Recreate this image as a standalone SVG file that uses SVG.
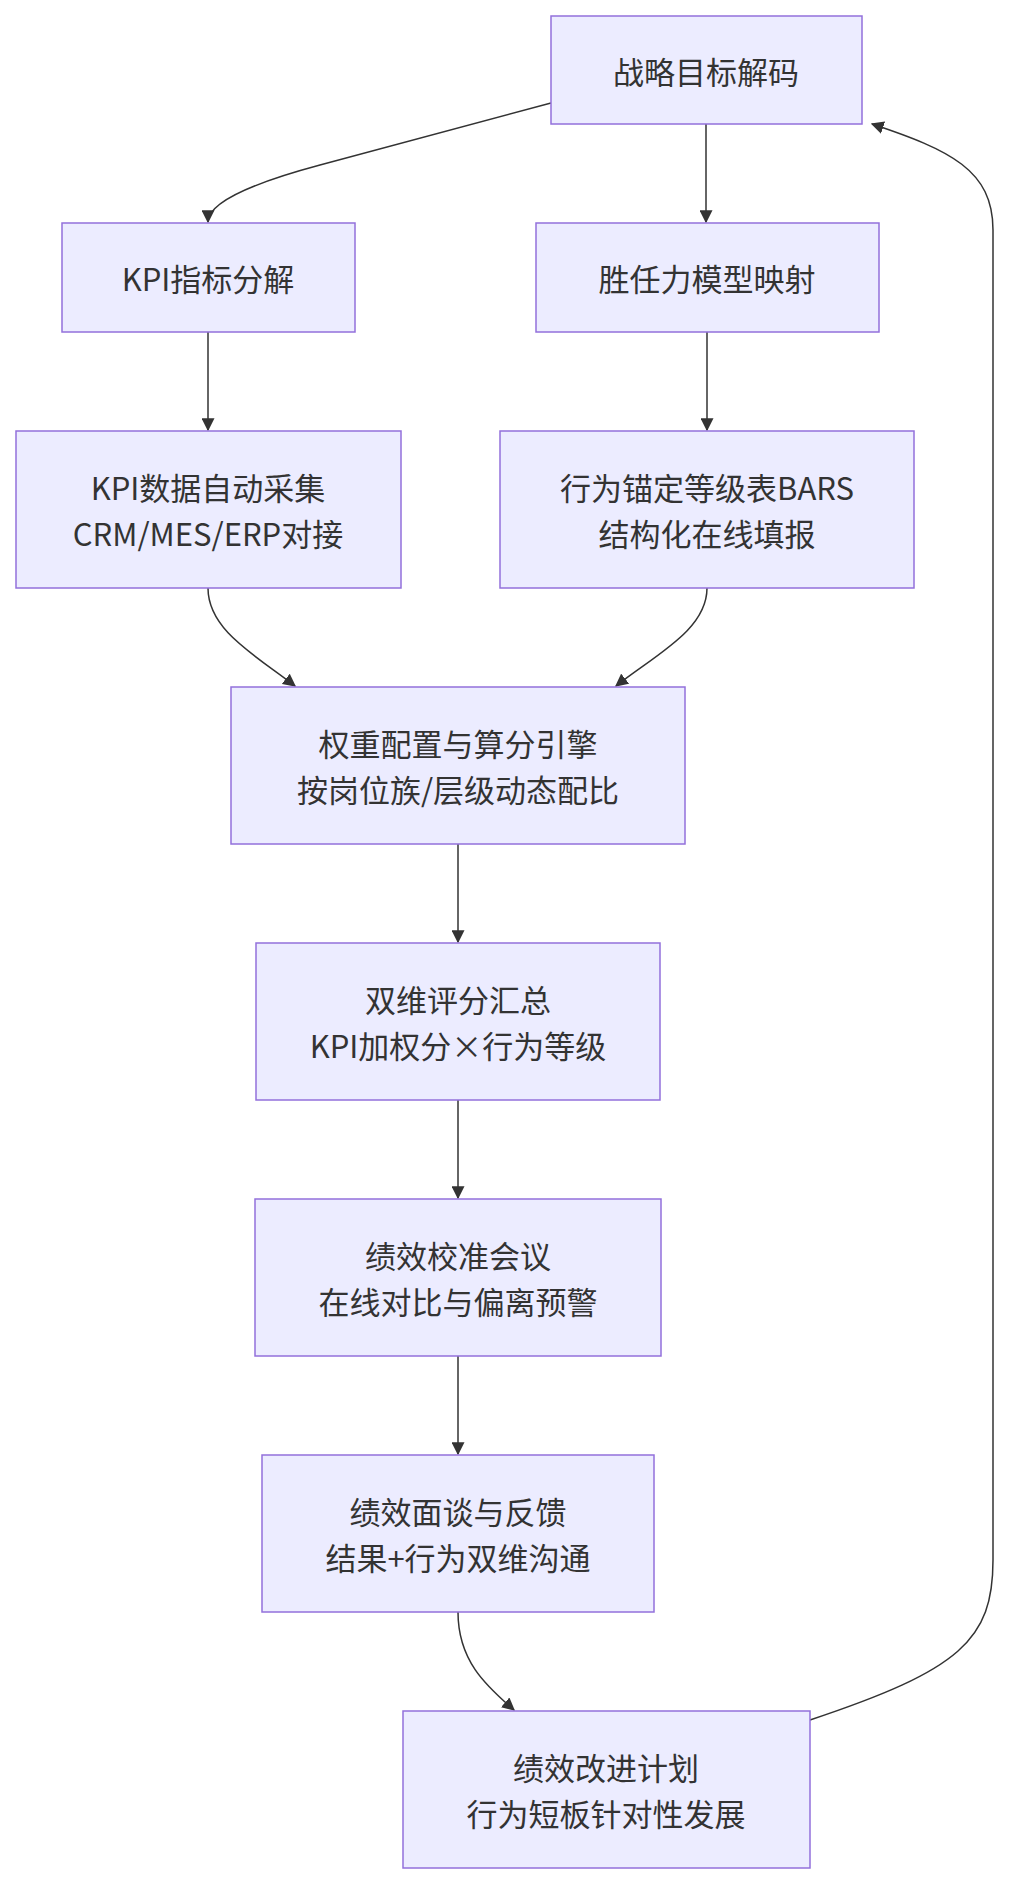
<svg xmlns="http://www.w3.org/2000/svg" width="1014" height="1884" viewBox="0 0 1014 1884">
<style>
.n rect{fill:#ECECFF;stroke:#9370DB;stroke-width:1.5}
.n text{font-family:"Noto Sans CJK SC","Noto Sans",sans-serif;font-size:31px;fill:#333;text-anchor:middle;dominant-baseline:central}
.e path{fill:none;stroke:#333;stroke-width:1.5;marker-end:url(#a)}
</style>
<defs><marker id="a" viewBox="0 0 10 10" refX="9" refY="5" markerWidth="13" markerHeight="13" orient="auto" markerUnits="userSpaceOnUse"><path d="M0,0L10,5L0,10z" fill="#333"/></marker></defs>
<rect width="1014" height="1884" fill="#fff"/>
<g class="e">
<path d="M551,103 L320,165 Q208,195 208,222"/>
<path d="M706,124 L706,222"/>
<path d="M208,332 L208,430"/>
<path d="M707,332 L707,430"/>
<path d="M208,588 C208,630 255,655 295,686"/>
<path d="M707,588 C707,630 655,655 616,686"/>
<path d="M458,844 L458,942"/>
<path d="M458,1100 L458,1198"/>
<path d="M458,1356 L458,1454"/>
<path d="M458,1612 C458,1660 485,1685 514,1710"/>
<path d="M810,1720 C960,1670 993,1640 993,1560 L993,230 C993,170 950,150 872,124"/>
</g>
<g id="A" class="n"><rect x="551" y="16" width="311" height="108"/><text x="706" y="70">战略目标解码</text></g>
<g id="B" class="n"><rect x="62" y="223" width="293" height="109"/><text x="208" y="277">KPI指标分解</text></g>
<g id="C" class="n"><rect x="536" y="223" width="343" height="109"/><text x="707" y="277">胜任力模型映射</text></g>
<g id="D" class="n"><rect x="16" y="431" width="385" height="157"/><text x="208" y="486">KPI数据自动采集</text><text x="208" y="532">CRM/MES/ERP对接</text></g>
<g id="E" class="n"><rect x="500" y="431" width="414" height="157"/><text x="707" y="486">行为锚定等级表BARS</text><text x="707" y="532">结构化在线填报</text></g>
<g id="F" class="n"><rect x="231" y="687" width="454" height="157"/><text x="458" y="742">权重配置与算分引擎</text><text x="458" y="788">按岗位族/层级动态配比</text></g>
<g id="G" class="n"><rect x="256" y="943" width="404" height="157"/><text x="458" y="998">双维评分汇总</text><text x="458" y="1044">KPI加权分×行为等级</text></g>
<g id="H" class="n"><rect x="255" y="1199" width="406" height="157"/><text x="458" y="1254">绩效校准会议</text><text x="458" y="1300">在线对比与偏离预警</text></g>
<g id="I" class="n"><rect x="262" y="1455" width="392" height="157"/><text x="458" y="1510">绩效面谈与反馈</text><text x="458" y="1556">结果+行为双维沟通</text></g>
<g id="J" class="n"><rect x="403" y="1711" width="407" height="157"/><text x="606" y="1766">绩效改进计划</text><text x="606" y="1812">行为短板针对性发展</text></g>
</svg>
